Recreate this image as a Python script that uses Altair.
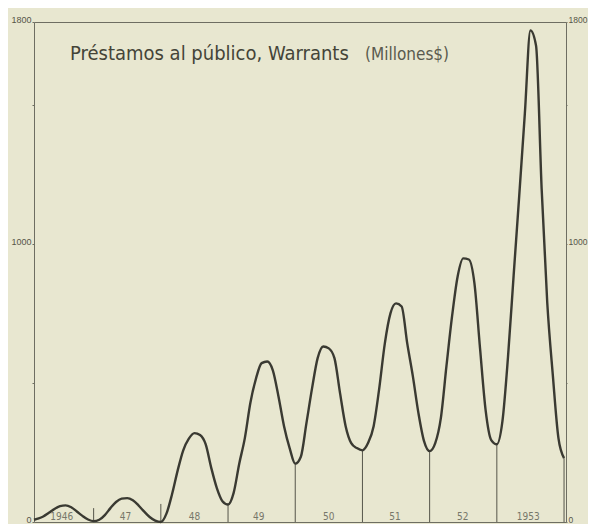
import altair as alt
import pandas as pd

# month index: 0 = January 1947
months = [-10.65, -10, -9, -8, -7, -6, -5, -4, -3, -2, -1,
          0, 1, 2, 3, 4, 5, 6, 7, 8, 9, 10, 11,
          12, 13, 14, 15, 16, 17, 18, 19, 20, 21, 22, 23,
          24, 25, 26, 27, 28, 29, 30, 31, 32, 33, 34, 35,
          36, 37, 38, 39, 40, 41, 42, 43, 44, 45, 46, 47,
          48, 49, 50, 51, 52, 53, 54, 55, 56, 57, 58, 59,
          60, 61, 62, 63, 64, 65, 66, 67, 68, 69, 70, 71,
          72, 73, 74, 75, 76, 77, 78, 79, 80, 81, 82, 83,
          84]
values = [8, 12, 20, 33, 47, 57, 60, 53, 38, 22, 9,
          3, 8, 25, 50, 72, 84, 86, 78, 60, 38, 18, 5,
          0, 30, 100, 185, 258, 300, 320, 313, 280, 195, 122, 75,
          63, 105, 210, 302, 430, 517, 572, 578, 546, 453, 345, 266,
          210, 235, 356, 481, 590, 632, 625, 590, 464, 345, 284, 266,
          258, 284, 345, 481, 643, 751, 787, 776, 643, 525, 392, 291,
          255, 284, 374, 561, 740, 884, 949, 945, 859, 625, 402, 295,
          280, 363, 596, 888, 1175, 1470, 1770, 1715, 1200, 790, 528, 302,
          230]

year_start = [0, 12, 24, 36, 48, 60, 72, 84]
year_line_bottom = [0, 0, 0, 0, 0, 0, 0, 0]
year_line_top = [50, 65, 63, 210, 258, 255, 280, 230]

year_labels = ["1946", "47", "48", "49", "50", "51", "52", "1953"]
year_label_pos = [-5.7, 5.7, 18, 29.5, 42, 53.8, 65.9, 77.6]
year_label_val = [19, 19, 19, 19, 19, 19, 19, 19]

title_main = "Préstamos al público, Warrants"
title_unit = "(Millones$)"

FONT = "DejaVu Sans Condensed"
AXFONT = "Liberation Sans"
INK = "#3a3a32"
FRAME = "#6e6e62"

series = pd.DataFrame({"m": months, "v": values})
rules = pd.DataFrame({"m": year_start, "v": year_line_bottom, "top": year_line_top})
ylab = pd.DataFrame({"m": year_label_pos, "v": year_label_val, "t": year_labels})

xscale = alt.Scale(domain=[-10.65, 84.35], nice=False, zero=False)
yscale = alt.Scale(domain=[0, 1800], nice=False)
label_expr = "datum.value == 0 || datum.value == 1000 || datum.value == 1800 ? datum.label : ''"

x_axis = alt.Axis(values=list(range(-10, 85)), labels=False, title=None, grid=False,
                  domain=False, tickSize=2, tickColor="#8a8a7c", tickWidth=0.8)


def y_axis(orient, size, tick):
    return alt.Axis(orient=orient, values=[0, 500, 1000, 1500, 1800], format="d",
                    labelExpr=label_expr, title=None, grid=False, domain=False,
                    tickSize=tick, tickColor=FRAME, labelFont=AXFONT, labelFontSize=size,
                    labelColor="#555548", labelPadding=1, labelBaseline="bottom",
                    labelOffset=2)


line = alt.Chart(series).mark_line(
    color=INK, strokeWidth=2.4, interpolate="monotone"
).encode(
    x=alt.X("m:Q", scale=xscale, axis=x_axis),
    y=alt.Y("v:Q", scale=yscale, axis=y_axis("left", 9, 2)),
)

vrules = alt.Chart(rules).mark_rule(color="#55554a", strokeWidth=1).encode(
    x=alt.X("m:Q", scale=xscale, axis=None),
    y=alt.Y("v:Q", scale=yscale, axis=None),
    y2=alt.Y2("top:Q"),
)

yl = alt.Chart(ylab).mark_text(font=FONT, fontSize=10, color="#77776a").encode(
    x=alt.X("m:Q", scale=xscale, axis=None),
    y=alt.Y("v:Q", scale=yscale, axis=y_axis("right", 8.5, 1)),
    text="t:N",
)

t1 = alt.Chart(pd.DataFrame({"t": [title_main]})).mark_text(
    font=FONT, fontSize=20, color="#444438", align="left", baseline="alphabetic"
).encode(x=alt.value(36), y=alt.value(38), text="t:N")

t2 = alt.Chart(pd.DataFrame({"t": [title_unit]})).mark_text(
    font=FONT, fontSize=17, color="#5a5a4e", align="left", baseline="alphabetic"
).encode(x=alt.value(331), y=alt.value(38), text="t:N")

main = alt.layer(vrules, line, yl).resolve_axis(y="independent")

chart = alt.layer(main, t1, t2).properties(
    width=532, height=500,
    autosize=alt.AutoSizeParams(type="none"),
    padding={"left": 26, "top": 14, "right": 22, "bottom": 2},
    background="#e8e7d0",
).configure_view(stroke=FRAME, strokeWidth=1)

chart.save("out.html", embed_options={"renderer": "svg", "actions": False})
